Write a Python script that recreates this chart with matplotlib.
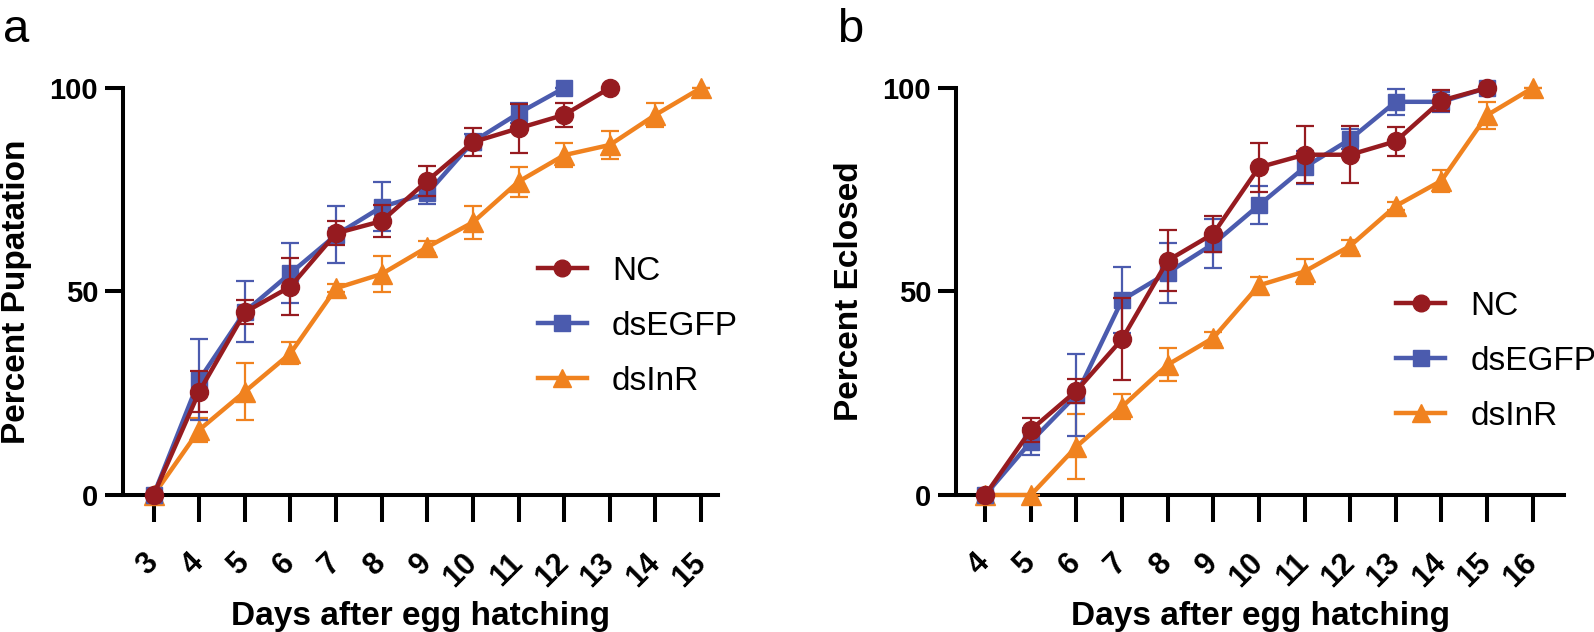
import matplotlib
matplotlib.use("Agg")
import matplotlib.pyplot as plt
from matplotlib.lines import Line2D
import numpy as np

plt.rcParams['font.family'] = ['Liberation Sans', 'DejaVu Sans']

# panel a - pupatation
days_a = [3, 4, 5, 6, 7, 8, 9, 10, 11, 12, 13, 14, 15]
pup_nc = [0, 25.4, 44.9, 51.2, 64.3, 67.3, 77.2, 86.7, 90.1, 93.4, 100]
pup_nc_err = [0, 5, 3, 7, 3, 4, 3.7, 3.5, 6, 3, 0]
pup_egfp = [0, 28.3, 45.0, 54.5, 63.9, 70.8, 74.1, 86.8, 93.8, 100]
pup_egfp_err = [0, 10, 7.5, 7.3, 7, 6, 2.5, 2, 2.5, 0]
pup_inr = [0, 16.0, 25.4, 34.8, 50.8, 54.3, 60.9, 67.0, 77.0, 83.5, 86.0, 93.4, 100]
pup_inr_err = [0, 3, 7, 2.7, 1, 4.5, 1.5, 4, 3.7, 3, 3.5, 3, 0]

# panel b - eclosion
days_b = [4, 5, 6, 7, 8, 9, 10, 11, 12, 13, 14, 15, 16]
ecl_nc = [0, 16.0, 25.6, 38.3, 57.6, 64.2, 80.5, 83.6, 83.6, 86.9, 96.9, 100]
ecl_nc_err = [0, 3, 3, 10, 7.6, 4.4, 6, 7, 7, 3.5, 2.5, 0]
ecl_egfp = [0, 13.1, 24.6, 47.9, 54.6, 61.7, 71.2, 80.5, 87.4, 96.6, 96.6, 100]
ecl_egfp_err = [0, 3.3, 10, 8, 7.4, 6, 4.6, 4, 2.5, 3.2, 2.5, 0]
ecl_inr = [0, 0, 11.9, 21.7, 32.0, 38.6, 51.5, 54.9, 61.2, 71.0, 77.2, 93.3, 100]
ecl_inr_err = [0, 0, 8, 3, 4, 1.5, 2, 3, 1.5, 1, 2.7, 3.3, 0]

labels = ['NC', 'dsEGFP', 'dsInR']
colors = ['#961B20', '#4B5BAE', '#F0821F']
markers = ['o', 's', '^']
msizes = [13, 12, 14]


def draw_series(ax, days, y, err, i, z):
    x = days[:len(y)]
    eb = ax.errorbar(x, y, yerr=err, color=colors[i], ecolor=colors[i],
                     marker=markers[i], markersize=msizes[i], lw=3.2,
                     elinewidth=1.6, capsize=6.5, capthick=1.6,
                     zorder=z, clip_on=False)
    for part in eb.lines[1] + eb.lines[2]:
        part.set_clip_on(False)
    return eb


def style_axes(ax, days, xlim, ylabel, lx):
    ax.set_xlim(*xlim)
    ax.set_ylim(0, 100)
    ax.spines['top'].set_visible(False)
    ax.spines['right'].set_visible(False)
    ax.spines['left'].set_linewidth(2.9)
    ax.spines['bottom'].set_linewidth(2.9)
    ax.set_yticks([0, 50, 100])
    ax.set_xticks(days)
    ax.tick_params(axis='y', length=13, width=2.9, pad=5, labelsize=21)
    ax.tick_params(axis='x', length=19.5, width=2.9, pad=26, labelsize=22)
    for t in ax.get_yticklabels():
        t.set_fontweight('bold')
    for t in ax.get_xticklabels():
        t.set_fontweight('bold')
        t.set_rotation(45)
        t.set_ha('right')
        t.set_va('center')
        t.set_rotation_mode('anchor')
    ax.set_ylabel(ylabel, fontsize=24, fontweight='bold')
    ax.yaxis.set_label_coords(lx, 0.5)
    ax.set_xlabel('Days after egg hatching', fontsize=24, fontweight='bold')
    ax.xaxis.set_label_coords(0.5, -0.26)


fig = plt.figure(figsize=(15.94, 6.32), dpi=100)
ax1 = fig.add_axes([0.0772, 0.2168, 0.3732, 0.644])
ax2 = fig.add_axes([0.5998, 0.2168, 0.3814, 0.644])

draw_series(ax1, days_a, pup_inr, pup_inr_err, 2, 3)
draw_series(ax1, days_a, pup_egfp, pup_egfp_err, 1, 4)
draw_series(ax1, days_a, pup_nc, pup_nc_err, 0, 5)
style_axes(ax1, days_a, (2.33, 15.37), 'Percent Pupatation', -0.153)

draw_series(ax2, days_b, ecl_inr, ecl_inr_err, 2, 3)
draw_series(ax2, days_b, ecl_egfp, ecl_egfp_err, 1, 4)
draw_series(ax2, days_b, ecl_nc, ecl_nc_err, 0, 5)
style_axes(ax2, days_b, (3.36, 16.69), 'Percent Eclosed', -0.15)

handles = [Line2D([], [], color=colors[i], marker=markers[i],
                  markersize=msizes[i] - 1, lw=3.2) for i in range(3)]
for ax, anchor in [(ax1, (0.3375, 0.484)), (ax2, (0.876, 0.428))]:
    ax.legend(handles, labels, loc='center left', bbox_to_anchor=anchor,
              bbox_transform=fig.transFigure, frameon=False,
              fontsize=24, handlelength=1.47, handletextpad=0.75,
              labelspacing=0.72, borderpad=0, borderaxespad=0)

fig.text(0.002, 0.934, 'a', fontsize=34, va='baseline', ha='left')
fig.text(0.525, 0.934, 'b', fontsize=34, va='baseline', ha='left')

fig.savefig('out.png', dpi=100)
